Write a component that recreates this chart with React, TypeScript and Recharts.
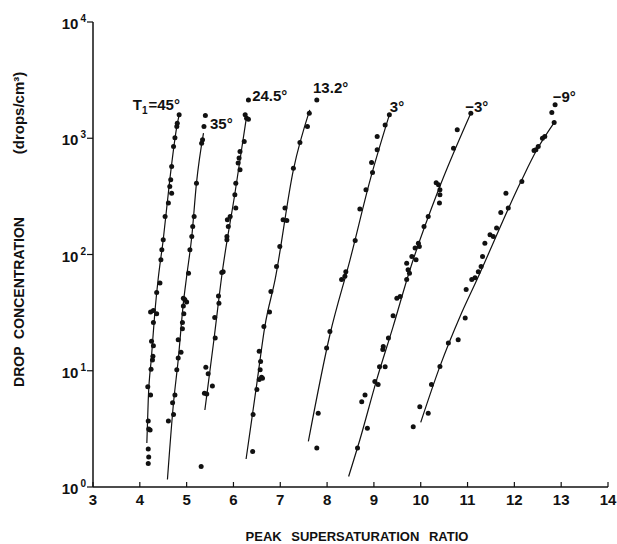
import React from 'react';
import { ComposedChart, Line, Scatter, XAxis, YAxis, ReferenceDot, Label } from 'recharts';

type P = [number, number];

const xTicks = [3, 4, 5, 6, 7, 8, 9, 10, 11, 12, 13, 14];
const yTicks = [1, 10, 100, 1000, 10000];

// measured points, [supersaturation ratio, drops/cm3]
const pts45: P[] = [
  [4.84, 1590], [4.8, 1349], [4.79, 1261], [4.75, 1008], [4.72, 849], [4.68, 571], [4.66, 439], [4.64, 384],
  [4.68, 337], [4.61, 278], [4.54, 212], [4.5, 134], [4.47, 110], [4.45, 90], [4.43, 57], [4.36, 47],
  [4.23, 32], [4.29, 33], [4.36, 31], [4.29, 26], [4.25, 17.9], [4.29, 16.4], [4.28, 13.3], [4.27, 12.4],
  [4.24, 10.3], [4.17, 7.3], [4.23, 6.2], [4.18, 3.7], [4.22, 3.1], [4.19, 3.15], [4.18, 2.12], [4.19, 1.81],
  [4.18, 1.59],
];
const fit45: P[] = [[4.15, 2.39], [4.18, 5.6], [4.25, 13.3], [4.32, 31.3], [4.39, 60.6], [4.5, 134], [4.64, 439], [4.79, 1261], [4.84, 1590]];

const pts35: P[] = [
  [5.4, 1567], [5.37, 1261], [5.34, 969], [5.32, 907], [5.21, 411], [5.16, 212], [5.13, 174], [5.11, 143],
  [5.07, 110], [5.04, 69], [4.93, 42], [4.96, 41], [5.0, 39], [4.93, 36], [4.94, 31], [4.91, 26], [4.91, 23],
  [4.82, 18.5], [4.88, 14.4], [4.82, 12.9], [4.79, 10.2], [4.75, 6.2], [4.7, 5.3], [4.72, 4.2], [4.61, 3.7],
  [5.31, 1.5],
];
const fit35: P[] = [[4.59, 1.16], [4.72, 5.3], [4.82, 12.4], [4.93, 38.2], [5.0, 64.7], [5.11, 143], [5.21, 411], [5.36, 1107]];

const pts24: P[] = [
  [6.32, 2138], [6.25, 1590], [6.28, 1489], [6.32, 1459], [6.23, 937], [6.14, 769], [6.12, 675], [6.1, 614],
  [6.14, 535], [6.05, 411], [6.03, 326], [6.05, 251], [5.93, 212], [5.87, 199], [5.89, 174], [5.86, 143],
  [5.86, 134], [5.75, 70], [5.78, 71], [5.68, 44], [5.69, 38], [5.6, 28.7], [5.61, 19.1], [5.41, 10.7],
  [5.46, 9.4], [5.55, 7.4], [5.38, 6.4], [5.43, 6.3],
];
const fit24: P[] = [[5.39, 4.6], [5.58, 18.1], [5.76, 70], [6.03, 333], [6.28, 1537]];

const pts13: P[] = [
  [7.78, 2138], [7.62, 1643], [7.58, 1261], [7.42, 918], [7.28, 553], [7.1, 251], [7.06, 199], [7.14, 196],
  [6.99, 117], [6.92, 79], [6.8, 48], [6.77, 32], [6.65, 24], [6.55, 14.7], [6.58, 12.0], [6.57, 10.2],
  [6.6, 8.8], [6.55, 8.4], [6.62, 8.6], [6.5, 6.9], [6.42, 4.2], [6.41, 2.02],
];
const fit13: P[] = [[6.27, 1.74], [6.39, 3.8], [6.5, 7.8], [6.67, 24], [6.89, 61], [7.28, 535], [7.63, 1753]];

const pts3: P[] = [
  [9.33, 1590], [9.24, 1303], [9.07, 1035], [9.07, 795], [8.95, 618], [8.97, 507], [8.83, 360], [8.7, 246],
  [8.6, 132], [8.4, 71], [8.38, 65], [8.31, 61], [8.06, 21.8], [7.99, 15.7], [7.81, 4.3], [7.78, 2.16],
];
const fit3: P[] = [[7.6, 2.47], [8.06, 20.4], [8.49, 90], [8.92, 439], [9.33, 1590]];

const ptsM3: P[] = [
  [11.07, 1643], [10.78, 1181], [10.7, 822], [10.38, 398], [10.33, 414], [10.41, 360], [10.41, 326], [10.4, 277],
  [10.16, 212], [10.07, 174], [9.95, 125], [9.97, 117], [9.88, 114], [9.81, 96], [9.9, 90], [9.7, 84],
  [9.73, 74], [9.76, 69], [9.7, 61], [9.56, 43.5], [9.49, 42], [9.41, 29.7], [9.31, 19.1], [9.2, 16.2],
  [9.19, 15.2], [9.12, 10.8], [9.24, 10.8], [9.02, 8.1], [9.09, 7.6], [8.81, 6.2], [8.74, 5.4], [8.86, 3.2],
  [8.65, 2.16],
];
const fitM3: P[] = [[8.46, 1.23], [8.7, 2.55], [9.06, 8.4], [9.41, 24], [9.77, 74], [10.38, 360], [11.07, 1643]];

const ptsM9: P[] = [
  [12.87, 1937], [12.8, 1663], [12.85, 1364], [12.65, 1035], [12.6, 1002], [12.51, 849], [12.46, 795], [12.42, 784],
  [12.16, 424], [11.82, 337], [11.87, 251], [11.71, 230], [11.62, 169], [11.48, 148], [11.55, 143], [11.37, 125],
  [11.32, 96], [11.29, 79], [11.23, 71], [11.16, 63], [11.09, 61], [10.97, 50], [10.95, 28.4], [10.8, 18.5],
  [10.59, 17.3], [10.41, 10.9], [10.23, 7.6], [9.98, 4.9], [10.16, 4.3], [9.84, 3.3],
];
const fitM9: P[] = [[10.0, 3.6], [10.41, 10.9], [10.84, 29.3], [11.2, 60.6], [12.14, 424], [12.48, 795], [12.85, 1364]];

const series = [
  { id: '45', pts: pts45, fit: fit45 },
  { id: '35', pts: pts35, fit: fit35 },
  { id: '24.5', pts: pts24, fit: fit24 },
  { id: '13.2', pts: pts13, fit: fit13 },
  { id: '3', pts: pts3, fit: fit3 },
  { id: '-3', pts: ptsM3, fit: fitM3 },
  { id: '-9', pts: ptsM9, fit: fitM9 },
];

// curve labels, anchored at their left baseline
const curveLabels = [
  { text: 'T1=45°', x: 3.85, y: 1754 },
  { text: '35°', x: 5.5, y: 1205 },
  { text: '24.5°', x: 6.4, y: 2094 },
  { text: '13.2°', x: 7.7, y: 2456 },
  { text: '3°', x: 9.34, y: 1687 },
  { text: '−3°', x: 10.95, y: 1687 },
  { text: '−9°', x: 12.82, y: 2056 },
];

const FONT = '"Liberation Sans", Arial, Helvetica, sans-serif';
const INK = '#111';

const toXY = (arr: P[]) => arr.map(([x, y]) => ({ x, y }));

const Dot = (props: any) => <circle cx={props.cx} cy={props.cy} r={2.5} fill={INK} />;

const XTick = (props: any) => {
  const { x, y, payload } = props;
  return (
    <g>
      <line x1={x} x2={x} y1={y} y2={y - 5} stroke={INK} strokeWidth={1.2} />
      <text x={x} y={y + 18} textAnchor="middle" fontSize={15} fontWeight="bold" fill={INK} fontFamily={FONT}>
        {payload.value}
      </text>
    </g>
  );
};

const YTick = (props: any) => {
  const { x, y, payload } = props;
  const exp = Math.round(Math.log10(payload.value));
  return (
    <g>
      <line x1={x - 6} x2={x} y1={y} y2={y} stroke={INK} strokeWidth={1.2} />
      <text x={x - 7} y={y + 7} textAnchor="end" fontSize={15} fontWeight="bold" fill={INK} fontFamily={FONT}>
        <tspan>10</tspan>
        <tspan dx={2} dy={-7} fontSize={10}>{exp}</tspan>
      </text>
    </g>
  );
};

const CurveLabel = (props: any) => {
  const { cx, cy, text } = props;
  if (text.startsWith('T1')) {
    return (
      <text x={cx} y={cy} fontSize={15} fontWeight="bold" fill={INK} fontFamily={FONT}>
        <tspan>T</tspan>
        <tspan fontSize={10} dy={4}>1</tspan>
        <tspan dy={-4} dx={1}>{text.slice(2)}</tspan>
      </text>
    );
  }
  return (
    <text x={cx} y={cy} fontSize={15} fontWeight="bold" fill={INK} fontFamily={FONT}>
      {text}
    </text>
  );
};

export default function App() {
  return (
    <div style={{ position: 'absolute', left: 0, top: 0, width: 617, height: 544, background: '#fff' }}>
      <ComposedChart width={617} height={544} margin={{ top: 22, right: 9, bottom: 27, left: 33 }}>
        <XAxis
          type="number"
          dataKey="x"
          domain={[3, 14]}
          ticks={xTicks}
          interval={0}
          allowDataOverflow
          height={30}
          tickSize={0}
          tickMargin={0}
          tickLine={false}
          tick={(p: any) => <XTick {...p} />}
          axisLine={{ stroke: INK, strokeWidth: 1.5 }}
        >
          <Label
            content={() => (
              <text x={357} y={541} textAnchor="middle" fontSize={13} fontWeight="bold" fill={INK} fontFamily={FONT} wordSpacing={6}>
                PEAK SUPERSATURATION RATIO
              </text>
            )}
          />
        </XAxis>
        <YAxis
          type="number"
          dataKey="y"
          scale="log"
          domain={[1, 10000]}
          ticks={yTicks}
          interval={0}
          allowDataOverflow
          width={60}
          tickSize={0}
          tickMargin={0}
          tickLine={false}
          tick={(p: any) => <YTick {...p} />}
          axisLine={{ stroke: INK, strokeWidth: 1.5 }}
        >
          <Label
            content={() => (
              <g fontFamily={FONT} fontWeight="bold" fill={INK}>
                <text transform="translate(24,302) rotate(-90)" textAnchor="middle" fontSize={14} wordSpacing={4}>
                  DROP CONCENTRATION
                </text>
                <text transform="translate(24,113) rotate(-90)" textAnchor="middle" fontSize={15}>
                  (drops/cm³)
                </text>
              </g>
            )}
          />
        </YAxis>
        {series.map((s) => (
          <Line
            key={'fit' + s.id}
            data={toXY(s.fit)}
            dataKey="y"
            type="monotone"
            stroke={INK}
            strokeWidth={1.2}
            dot={false}
            activeDot={false}
            isAnimationActive={false}
          />
        ))}
        {series.map((s) => (
          <Scatter key={'pts' + s.id} data={toXY(s.pts)} shape={Dot} isAnimationActive={false} />
        ))}
        {curveLabels.map((l) => (
          <ReferenceDot
            key={l.text}
            x={l.x}
            y={l.y}
            r={0}
            shape={(p: any) => <CurveLabel {...p} text={l.text} />}
          />
        ))}
      </ComposedChart>
    </div>
  );
}
